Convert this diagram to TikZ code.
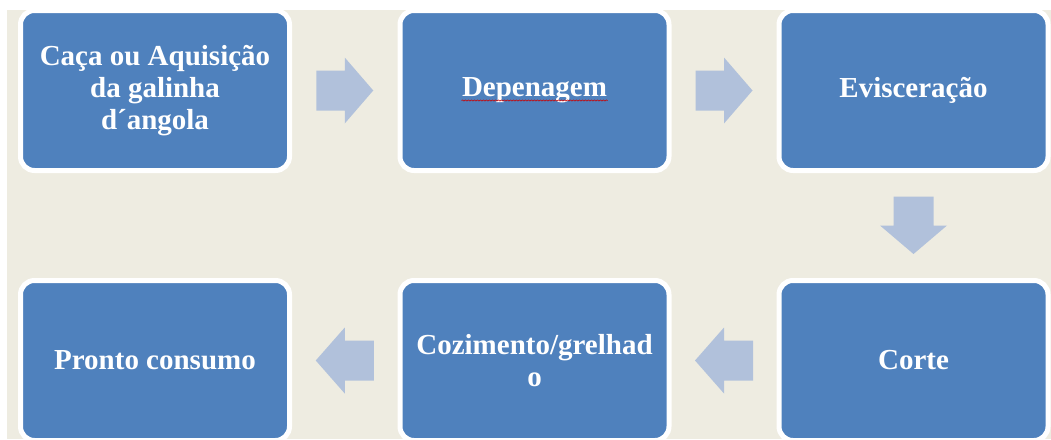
\documentclass[tikz,border=0pt]{standalone}
\usepackage{fontspec}
\setmainfont{Liberation Serif}
\usetikzlibrary{calc,decorations.pathmorphing}
\definecolor{boxblue}{HTML}{4F81BD}
\definecolor{arrowblue}{HTML}{B1C1DB}
\definecolor{beige}{HTML}{EEECE1}
\tikzset{
  stepbox/.style={draw=white, line width=5pt, fill=boxblue, rounded corners=14pt,
    minimum width=269pt, minimum height=160pt, inner sep=0pt, align=center,
    text=white, font=\bfseries\fontsize{29}{32}\selectfont},
  flowarrow/.style={fill=arrowblue, draw=none}
}
\begin{document}
\begin{tikzpicture}[x=1pt,y=-1pt]
\useasboundingbox (0,0) rectangle (1051,439);
\fill[beige] (7,9.5) rectangle (1051,439);
% boxes
\node[stepbox] (b1) at (155,90.5) {Caça ou Aquisição\\da galinha\\d\textasciiacute angola};
\node[stepbox] (b2) at (534.5,90.5) {Depenagem};
\node[stepbox] (b3) at (913.5,90.5) {Evisceração};
\node[stepbox] (b6) at (913.5,360.5) {Corte};
\node[stepbox] (b5) at (534.5,360.5) {Cozimento/grelhad\\o};
\node[stepbox] (b4) at (155,360.5) {Pronto consumo};
% spell-check underline
\draw[red!80!black, line width=0.6pt, decorate, decoration={snake, amplitude=0.6pt, segment length=3pt}]
  ($(b2.center)+(-73,10)$) -- ($(b2.center)+(73,10)$);
% arrows
\coordinate (a1) at ($(b1.east)!0.5!(b2.west)$);
\coordinate (a2) at ($(b2.east)!0.5!(b3.west)$);
\coordinate (a3) at ($(b3.south)!0.5!(b6.north)$);
\coordinate (a4) at ($(b6.west)!0.5!(b5.east)$);
\coordinate (a5) at ($(b5.west)!0.5!(b4.east)$);
\fill[flowarrow] ($(a1)+(-28.5,-20)$) -- ++(28.5,0) -- ++(0,-13) -- ++(28.5,33) -- ++(-28.5,33) -- ++(0,-13) -- ++(-28.5,0) -- cycle;
\fill[flowarrow] ($(a2)+(-28.5,-20)$) -- ++(28.5,0) -- ++(0,-13) -- ++(28.5,33) -- ++(-28.5,33) -- ++(0,-13) -- ++(-28.5,0) -- cycle;
\fill[flowarrow] ($(a3)+(-20,-29)$) -- ++(0,29) -- ++(-13.5,0) -- ++(33.5,28.5) -- ++(33.5,-28.5) -- ++(-13.5,0) -- ++(0,-29) -- cycle;
\fill[flowarrow] ($(a4)+(29,-20)$) -- ++(-29,0) -- ++(0,-13) -- ++(-29,33) -- ++(29,33) -- ++(0,-13) -- ++(29,0) -- cycle;
\fill[flowarrow] ($(a5)+(29,-20)$) -- ++(-29,0) -- ++(0,-13) -- ++(-29,33) -- ++(29,33) -- ++(0,-13) -- ++(29,0) -- cycle;
\end{tikzpicture}
\end{document}
